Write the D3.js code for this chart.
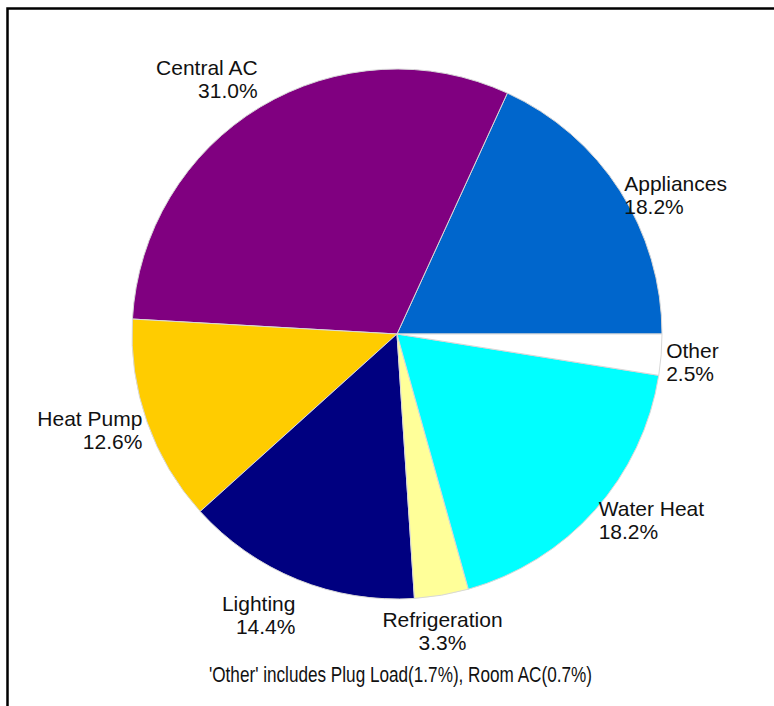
<!doctype html>
<html>
  <head>
    <meta charset="utf-8">
    <script src="https://cdn.jsdelivr.net/npm/d3@7"></script>
    <style>
      html, body { margin: 0; padding: 0; background: #fff; }
      svg { display: block; }
      .lbl { font-family: "Liberation Sans", Arial, sans-serif; font-size: 21px; fill: #111; }
      .note { font-family: "Liberation Sans Narrow", "Arial Narrow", "Liberation Sans", sans-serif; font-size: 22px; fill: #111; }
    </style>
  </head>
  <body>
    <svg id="chart"></svg>
    <script>
      // data
      var categories = ["Appliances", "Central AC", "Heat Pump", "Lighting", "Refrigeration", "Water Heat", "Other"];
      var shares = [18.2, 31.0, 12.6, 14.4, 3.3, 18.2, 2.5];
      var colors = ["#0066cc", "#800080", "#ffcc00", "#000080", "#ffff99", "#00ffff", "#ffffff"];
      var footnote = "'Other' includes Plug Load(1.7%), Room AC(0.7%)";

      var width = 774, height = 706;
      var cx = 397, cy = 334, r = 265;

      var svg = d3.select("#chart").attr("width", width).attr("height", height);

      // frame (left + top edge only)
      svg.append("path")
        .attr("d", "M7.5," + height + " V8.5 H" + width)
        .attr("fill", "none")
        .attr("stroke", "#000")
        .attr("stroke-width", 2.5);

      var rows = categories.map(function(c, i) { return { name: c, value: shares[i], color: colors[i] }; });

      // start at 3 o'clock, go counter-clockwise (like matlab pie)
      var pie = d3.pie().sort(null).value(function(d) { return d.value; })
        .startAngle(Math.PI / 2).endAngle(Math.PI / 2 - 2 * Math.PI);
      var arc = d3.arc().innerRadius(0).outerRadius(r);

      var g = svg.append("g").attr("transform", "translate(" + cx + "," + cy + ")");
      var arcs = pie(rows);

      g.selectAll("path.slice").data(arcs).enter().append("path")
        .attr("class", "slice")
        .attr("d", arc)
        .attr("fill", function(d) { return d.data.color; })
        .attr("stroke", "#d8d8d8")
        .attr("stroke-width", 1);

      // labels
      var rl = 270, lineH = 23;
      arcs.forEach(function(d) {
        var a = (d.startAngle + d.endAngle) / 2;   // d3 angle: 0 = up, clockwise
        var sx = Math.sin(a), sy = -Math.cos(a);   // screen unit vector
        var x = sx * rl, y = sy * rl;
        var anchor = sx > 0.2 ? "start" : (sx < -0.2 ? "end" : "middle");
        // vertical: above the point near the top, hanging below near the bottom
        var base;
        if (sy < -0.7) base = y - 4.5 - lineH;
        else if (sy > 0.8) base = y + 26.5;
        else base = y + 2.5;
        var t = g.append("text").attr("class", "lbl")
          .attr("text-anchor", anchor)
          .attr("x", x).attr("y", base);
        t.append("tspan").attr("x", x).attr("dy", 0).text(d.data.name);
        t.append("tspan").attr("x", x).attr("dy", lineH).text(d3.format(".1f")(d.data.value) + "%");
      });

      svg.append("text").attr("class", "note")
        .attr("x", 209).attr("y", 682)
        .attr("textLength", 383)
        .attr("lengthAdjust", "spacingAndGlyphs")
        .text(footnote);
    </script>
  </body>
</html>
